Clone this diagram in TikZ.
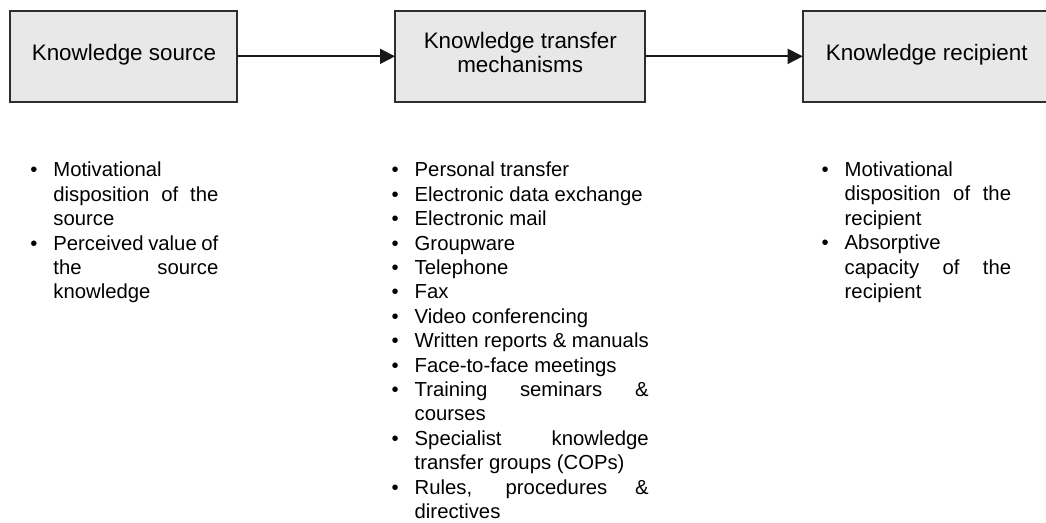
\documentclass[tikz,border=0pt]{standalone}
\usepackage{fontspec}
\setmainfont{Liberation Sans}
\usetikzlibrary{arrows.meta}
\definecolor{boxgray}{HTML}{E8E8E8}
\definecolor{edgegray}{HTML}{2E2E2E}
% bullet hung into the left margin of a list line
\newcommand\kbul{\leavevmode\llap{\textbullet\hspace{8pt}}}
% a justified (fully stretched) line
\newcommand\jline[1]{\makebox[\linewidth][s]{#1}}
\begin{document}
\begin{tikzpicture}[x=0.5pt,y=-0.5pt,
  kbox/.style={draw=edgegray, line width=1pt, fill=boxgray, rectangle,
    inner sep=0pt, outer sep=0pt, minimum height=45.35pt},
  klabel/.style={anchor=base, inner sep=0pt, font=\fontsize{11.2pt}{12.2pt}\selectfont},
  flow/.style={draw=black!90, line width=0.9pt,
    -{Triangle[length=7.5pt,width=7.5pt]}},
  blist/.style={anchor=base west, inner sep=0pt,
    font=\fontsize{10.15pt}{12.2pt}\selectfont}]
\useasboundingbox (0,0) rectangle (1046,523);
\clip (0,0) rectangle (1046,523);

% the three stages
\node[kbox, minimum width=113.65pt] (src)  at (123.7,56.35) {};
\node[kbox, minimum width=125pt]    (mech) at (520,56.35) {};
\node[kbox, minimum width=124pt]    (rcp)  at (926.7,56.35) {};

\node[klabel] (srcl)   at (124,61)    {Knowledge source};
\node[klabel] (mechl1) at (520.3,48.3) {Knowledge transfer};
\node[klabel] (mechl2) at (520.2,72.7) {mechanisms};
\node[klabel] (rcpl)   at (926.7,61)  {Knowledge recipient};

\draw[flow] (src.east) -- (mech.west);
\draw[flow] (mech.east) -- (rcp.west);

% factors listed under each stage
\node[blist] (srclist) at (53,177) {\parbox[t]{82.5pt}{%
  \kbul Motivational\\
  \jline{disposition of the}\\
  source\\
  \kbul\jline{Perceived value of}\\
  \jline{the source}\\
  knowledge}};

\node[blist] (mechlist) at (414.3,177) {\parbox[t]{117pt}{%
  \kbul Personal transfer\\
  \kbul Electronic data exchange\\
  \kbul Electronic mail\\
  \kbul Groupware\\
  \kbul Telephone\\
  \kbul Fax\\
  \kbul Video conferencing\\
  \kbul Written reports \& manuals\\
  \kbul Face-to-face meetings\\
  \kbul\jline{Training seminars \&}\\
  courses\\
  \kbul\jline{Specialist knowledge}\\
  transfer groups (COPs)\\
  \kbul\jline{Rules, procedures \&}\\
  directives}};

\node[blist] (rcplist) at (844.3,176.5) {\parbox[t]{83.2pt}{%
  \kbul Motivational\\
  \jline{disposition of the}\\
  recipient\\
  \kbul Absorptive\\
  \jline{capacity of the}\\
  recipient}};
\end{tikzpicture}
\end{document}
